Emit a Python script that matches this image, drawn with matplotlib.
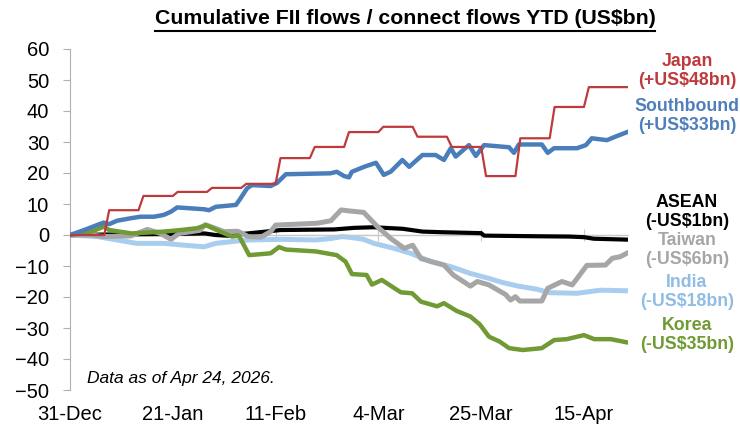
import pandas as pd
import matplotlib
matplotlib.use('Agg')
import matplotlib.pyplot as plt
from matplotlib.lines import Line2D

plt.rcParams['font.family'] = ['Liberation Sans', 'DejaVu Sans']

# Dias desde el 31-Dic-2025 y valores acumulados (US$bn)
inicio = pd.Timestamp('2025-12-31')

japan_dias = [0, 8, 15, 22, 29, 36, 43, 50, 57, 64, 71, 78, 85, 92, 99, 106, 114]
japan_vals = [0, 8, 12.6, 13.9, 15.2, 16.5, 24.8, 28.4, 33.2, 34.9, 31.7, 28.4, 19, 31.2, 41.3, 47.7, 47.7]

south_dias = [0, 2.9, 5.5, 6.9, 8.0, 9.6, 12.4, 14.4, 17.2, 19.2, 20.6, 21.9, 24.7, 27.4, 28.4, 29.8,
              33.9, 34.7, 36.2, 37.2, 41, 42.3, 44.1, 53.2, 54.5, 56, 57, 57.6, 60.1, 62.5, 64.1, 65.5,
              67.9, 69.3, 72, 74.7, 76.4, 77.8, 78.8, 81.5, 82.9, 84.6, 88.3, 89.7, 90.7, 91.7, 96.4,
              97.6, 98.9, 103.6, 105.4, 106.6, 109.7, 111.7, 114]
south_vals = [0, 1.6, 3.2, 4.0, 3.5, 4.6, 5.4, 5.9, 5.9, 6.5, 7.5, 8.9, 8.6, 8.3, 8.0, 9.1,
              9.7, 11.5, 15.1, 16.1, 15.8, 16.8, 19.6, 19.9, 20.4, 19.0, 18.6, 20.4, 22, 23.3, 19.4, 20.4,
              24.2, 22, 25.8, 25.8, 24.2, 28, 25.3, 29, 25.5, 29, 28.5, 28.3, 26.5, 29.2, 29.2,
              26.5, 28, 28, 29, 31.2, 30.6, 31.9, 33.3]

asean_dias = [0, 10, 20, 27.5, 29.7, 33, 35, 40, 43, 54, 58, 62, 68, 72, 76, 84, 84.6, 95, 102, 105, 107, 114]
asean_vals = [0, 0.2, 0.3, 0.5, 0, -0.3, 0.3, 1.1, 1.6, 1.8, 2.3, 2.5, 2.0, 1.1, 0.9, 0.6, -0.2, -0.4, -0.5, -0.7, -1.2, -1.5]

taiwan_dias = [0, 4.3, 6.9, 12.4, 15.8, 18.5, 20.6, 22.3, 26.5, 27.6, 29.1, 31.5, 34.3, 36.4, 39, 41, 42,
               47.8, 50.5, 53.3, 55.4, 56.8, 60, 62.8, 65.5, 68.3, 70, 71.7, 76.4, 78.3, 81.8, 83.2, 85.6,
               89, 90, 91, 91.9, 96.4, 97.6, 100.5, 102.6, 105.6, 109.4, 110.8, 112.4, 114]
taiwan_vals = [0, 0, -0.5, -0.3, 1.8, 0.5, -1.4, 0.5, 1.5, 3.3, 2.5, 1.1, 1.2, -0.5, -0.7, 1.1, 3.2,
               3.6, 3.8, 4.6, 8.1, 7.8, 7.3, 2.7, -1.1, -4.3, -3.3, -7.6, -9.7, -12.9, -16.5, -15, -16.1,
               -19.2, -21, -19.9, -21.3, -21.3, -17.2, -15, -16.1, -9.8, -9.7, -7.5, -7.0, -5.7]

india_dias = [0, 5.5, 9.6, 13.6, 19.2, 22.6, 27.4, 29.8, 33.1, 36.6, 43.3, 50.2, 53.5, 55.6, 57.5, 60,
              62.1, 66.2, 69.6, 73.7, 77.8, 81.8, 85.6, 88.3, 91.6, 95.4, 97.9, 103.6, 108.4, 114]
india_vals = [0, -0.5, -1.6, -2.7, -2.7, -3.2, -3.8, -2.7, -2.1, -1.6, -1.4, -1.6, -1.1, -0.5, -0.8, -1.4,
              -2.7, -4.3, -5.9, -8.6, -10.2, -12.4, -14, -15.3, -16.5, -17.5, -18.6, -18.8, -17.8, -18]

korea_dias = [0, 4.3, 5.5, 6.9, 8.0, 12.6, 19.2, 22.6, 26, 27.8, 30.4, 33.1, 34.5, 36.6, 41, 42.7, 44.1,
              50.2, 54.5, 56.3, 57.6, 60.6, 61.7, 63.7, 67.6, 69.9, 71.7, 75, 76.4, 79, 81.8, 83.7, 85.6,
              87.8, 89.7, 92.5, 96.4, 98.9, 101.5, 105, 107.1, 110.5, 114]
korea_vals = [0, 1.1, 1.8, 2.7, 1.6, 0.5, 1.1, 1.6, 2.2, 3.2, 1.3, -0.5, -0.2, -6.5, -5.9, -3.9, -4.7,
              -5.3, -6.5, -8.6, -12.6, -12.9, -16, -14.5, -18.5, -18.8, -21.5, -23, -22, -24.5, -26.3, -28.8, -32.8,
              -34.4, -36.5, -37.1, -36.5, -33.9, -33.6, -32.3, -33.6, -33.6, -34.7]

ticks_dias = [0, 21, 42, 63, 84, 105]

etiquetas = [
    ('Japan\n(+US$48bn)', '#be3a3c', 71),
    ('Southbound\n(+US$33bn)', '#4f7fbb', 116),
    ('ASEAN\n(-US$1bn)', '#000000', 212),
    ('Taiwan\n(-US$6bn)', '#a6a6a6', 250),
    ('India\n(-US$18bn)', '#8fbde4', 292),
    ('Korea\n(-US$35bn)', '#6f9a34', 335),
]

# Japon: dato semanal, el salto ocurre en un dia (linea inclinada como en Excel)
jx, jy = [japan_dias[0]], [japan_vals[0]]
for i in range(1, len(japan_dias)):
    jx += [japan_dias[i] - 1, japan_dias[i]]
    jy += [japan_vals[i - 1], japan_vals[i]]

fig = plt.figure(figsize=(7.4, 4.25), dpi=100)
ax = fig.add_axes([70 / 740, 35 / 425, 558 / 740, 341 / 425])

gris = '#b0b0b0'
ax.axhline(0, color='#c8c8c8', lw=1, zorder=1)
ax.plot(india_dias, india_vals, color='#a9cdee', lw=3.6, zorder=2, solid_joinstyle='round')
ax.plot(asean_dias, asean_vals, color='#000000', lw=3.0, zorder=3, solid_joinstyle='round')
ax.plot(taiwan_dias, taiwan_vals, color='#a6a6a6', lw=3.6, zorder=4, solid_joinstyle='round')
ax.plot(korea_dias, korea_vals, color='#6f9a34', lw=3.2, zorder=5, solid_joinstyle='round')
ax.plot(south_dias, south_vals, color='#4a7ebb', lw=3.2, zorder=6, solid_joinstyle='round')
ax.plot(jx, jy, color='#be3a3c', lw=1.6, zorder=7)

ax.set_xlim(0, 114)
ax.set_ylim(-50, 60)
ax.set_yticks(range(-50, 61, 10))
ax.tick_params(axis='y', labelsize=14.5, length=5, color=gris, direction='out', pad=10)

# eje x cruza en cero, etiquetas abajo
ax.spines['bottom'].set_position(('data', 0))
ax.spines['bottom'].set_color('#c8c8c8')
ax.set_xticks(ticks_dias)
ax.set_xticklabels([])
ax.tick_params(axis='x', length=8, color='#c8c8c8', direction='inout')
for d in ticks_dias:
    fecha = inicio + pd.Timedelta(days=d)
    ax.text(d, -0.045, f'{fecha.day}-{fecha.strftime("%b")}', transform=ax.get_xaxis_transform(),
            ha='center', va='top', fontsize=14.5)

for s in ['top', 'right']:
    ax.spines[s].set_visible(False)
ax.spines['left'].set_color(gris)

ax.text(0.03, 0.035, 'Data as of Apr 24, 2026.', transform=ax.transAxes, fontsize=12.5,
        style='italic', ha='left', va='center')

for texto, color, y in etiquetas:
    fig.text(687 / 740, 1 - y / 425, texto, color=color, fontsize=12.8, fontweight='bold',
             ha='center', va='center', linespacing=1.15)

titulo = fig.text(405 / 740, 1 - 19 / 425, 'Cumulative FII flows / connect flows YTD (US$bn)',
                  fontsize=15.3, fontweight='bold', ha='center', va='center')
fig.canvas.draw()
bb = titulo.get_window_extent().transformed(fig.transFigure.inverted())
fig.add_artist(Line2D([bb.x0, bb.x1], [1 - 31 / 425] * 2, color='black', lw=1.5,
                      transform=fig.transFigure))

fig.savefig('out.png', dpi=100)
